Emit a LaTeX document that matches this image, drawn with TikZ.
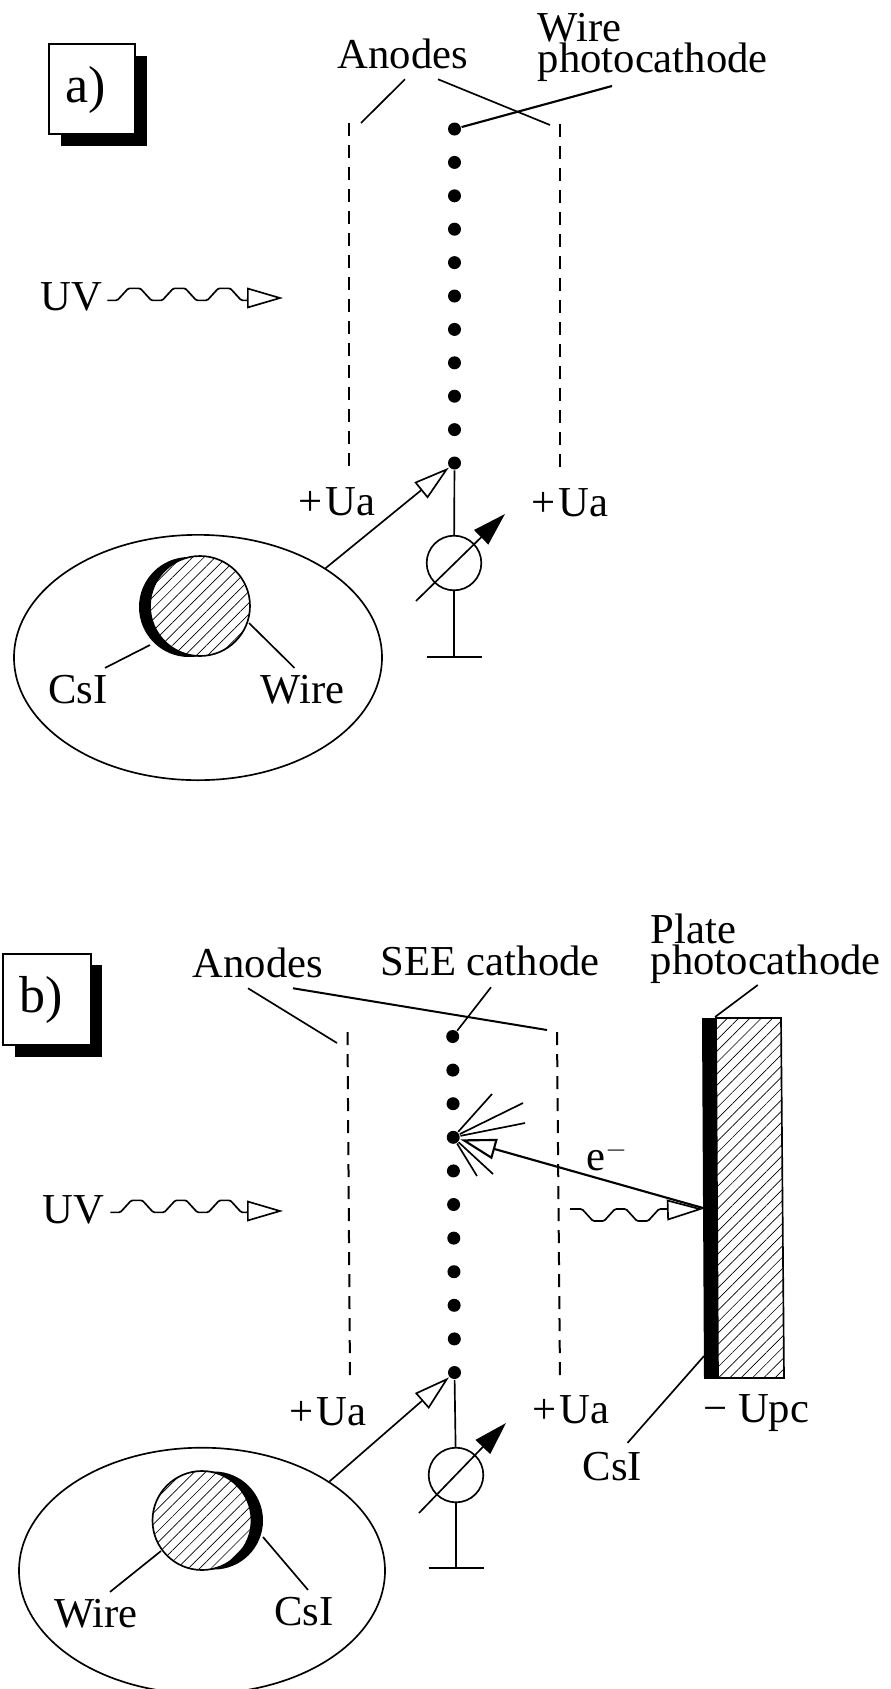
\documentclass[tikz,border=0pt]{standalone}
\usepackage{fontspec}
\setmainfont{Liberation Serif}
\usetikzlibrary{arrows.meta,patterns.meta,shapes.geometric}

\tikzset{
  lbl/.style={inner sep=0pt,anchor=base,font=\fontsize{32}{23.25}\selectfont},
  tagtext/.style={inner sep=0pt,anchor=base west,font=\fontsize{39}{40}\selectfont},
  wdot/.style={circle,fill=black,inner sep=0pt,minimum size=9.75pt},
  dashwall/.style={line width=1.5pt,dash pattern=on 9.75pt off 6.75pt},
  opentip/.style={-{Triangle[fill=white,length=27pt,width=15.5pt]}},
  solidtip/.style={-{Triangle[length=25pt,width=15pt]}},
  wave/.style={rounded corners=1pt},
  meter/.style={circle,draw,inner sep=0pt,minimum size=41pt},
  insetring/.style={ellipse,draw,inner sep=0pt},
  hatch/.style={preaction={fill=white},pattern={Lines[angle=45,distance=6pt,line width=0.5pt]}}
}

\begin{document}
\begin{tikzpicture}[x=0.75pt,y=0.75pt,yscale=-1,xscale=1,line width=1.25pt]
\path[use as bounding box] (0,0) rectangle (891,1689);

%Panel a: tag box
\fill (61,56) rectangle (147,146);
\draw[fill=white] (49,44) rectangle (135,134);
\node[tagtext] (taga) at (65,102) {a)};

%Panel a: labels
\node[lbl] (anodesa) at (403,68) {Anodes};
\node[lbl,anchor=south west,align=left] (wirepca) at (537,82) {Wire\\photocathode};
\node[lbl,anchor=base west] (uva) at (40,310) {UV};
\node[lbl] (uala) at (337,515) {+\kern2pt Ua};
\node[lbl] (uara) at (570,516) {+\kern2pt Ua};

%Panel a: anodes and wire dots
\draw[dashwall] (349,123) -- (349,468);
\draw[dashwall] (560,124) -- (560,470);
\foreach \i in {1,...,11} \node[wdot] (da\i) at (454.5,{129+33.4*(\i-1)}) {};

%Panel a: leaders
\coordinate (lala) at (361,123);
\coordinate (lara) at (550,125);
\draw (anodesa.south) ++(2,10) -- (lala);
\draw (anodesa.south) ++(35,10) -- (lara);
\draw[line width=1.6pt] (da1) -- (612,86);

%Panel a: UV wave
\coordinate (uvba) at (247,298);
\coordinate (uvca) at (283,298);
\draw[wave] (uva.east) ++(4,4) -- ++(10,0) \foreach \k in {1,2,3} { -- ++(11,-12) -- ++(12,0) -- ++(11,12) -- ++(11,0)} -- (uvba);
\draw[opentip] (uvba) -- (uvca);

%Panel a: meter
\node[meter] (metera) at (454,563) {};
\coordinate (gnda) at (454,657);
\draw (da11) -- (metera);
\draw (metera) -- (gnda);
\draw[line width=1.5pt] (gnda) ++(-27.5,0) -- ++(55,0);
\coordinate (mta) at (416,601);
\coordinate (mtb) at (505,514);
\draw[solidtip] (mta) -- (mtb);

%Panel a: inset
\node[insetring,minimum width=276pt,minimum height=184pt] (ella) at (198,657.5) {};
\draw[opentip] (ella.35) -- (da11);
\fill (189,607) circle [radius=50];
\draw[hatch] (200,606) circle [radius=50];
\node[lbl] (csia) at (78,703) {CsI};
\node[lbl] (wireia) at (302.5,703) {Wire};
\coordinate (lca) at (150,645);
\coordinate (lwa) at (249,623);
\draw (csia.north) ++(27,-6) -- (lca);
\draw (wireia.north) ++(-8,-6) -- (lwa);

%Panel b: tag box
\fill (15,965) rectangle (102,1057);
\draw[fill=white] (3,954) rectangle (91,1045);
\node[tagtext] (tagb) at (19,1012) {b)};

%Panel b: labels
\node[lbl] (anodesb) at (258,977) {Anodes};
\node[lbl] (seeb) at (490,975) {SEE cathode};
\node[lbl,anchor=south west,align=left] (platepc) at (650,984) {Plate\\photocathode};
\node[lbl,anchor=base west] (uvb) at (42,1223) {UV};
\node[lbl] (ualb) at (328,1425) {+\kern2pt Ua};
\node[lbl] (uarb) at (571,1423) {+\kern2pt Ua};
\node[lbl,anchor=base east] (upc) at (810,1422) {− Upc};
\node[lbl] (csiplate) at (612.5,1480) {CsI};
\node[lbl] (elec) at (607,1170) {e$^{-}$};

%Panel b: anodes and cathode dots
\draw[dashwall] (347.5,1032) -- (350,1378);
\draw[dashwall] (557,1032) -- (560,1378);
\foreach \i in {1,...,11} \node[wdot] (db\i) at ({452.7+0.18*(\i-1)},{1036.5+33.6*(\i-1)}) {};

%Panel b: leaders
\coordinate (lalb) at (337,1043);
\coordinate (larb) at (547,1030);
\draw (anodesb.south) ++(-10,10) -- (lalb);
\draw[line width=1.5pt] (anodesb.south) ++(35,10) -- (larb);
\draw (seeb.south) ++(1,11) -- (db1);
\draw (platepc.south) ++(-8,1) -- (715,1017);

%Panel b: plate
\fill (702,1018) -- (716,1018) -- (718,1378) -- (704,1378) -- cycle;
\draw[hatch] (716,1018) -- (781,1018) -- (784,1378) -- (718,1378) -- cycle;
\draw (704,1378) -- (718,1378);
\coordinate (lcp) at (704,1356);
\draw (csiplate.north) ++(15,-8) -- (lcp);

%Panel b: UV wave and photon to plate
\coordinate (uvbb) at (247,1211);
\coordinate (uvcb) at (283,1211);
\draw[wave] (uvb.east) ++(5,3) -- ++(10,0) \foreach \k in {1,2,3} { -- ++(11,-12) -- ++(11,0) -- ++(11,12) -- ++(11,0)} -- (uvbb);
\draw[opentip] (uvbb) -- (uvcb);
\coordinate (wpa) at (570,1209);
\coordinate (wpb) at (668,1210);
\coordinate (wpc) at (703,1209);
\draw[wave] (wpa) -- ++(12,0) \foreach \k in {1,2} { -- ++(11,12) -- ++(11,0) -- ++(11,-12) -- ++(11,0)} -- (wpb);
\draw[opentip] (wpb) -- (wpc);

%Panel b: secondary electrons
\coordinate (pla) at (703,1208);
\draw[opentip,line width=1.6pt] (pla) -- (db4);
\foreach \i/\x/\y in {1/492/1094,2/523/1103,3/525/1123,4/477/1176,5/493/1174} {
  \coordinate (ray\i) at (\x,\y);
  \draw (db4) -- (ray\i);
}

%Panel b: meter
\node[meter] (meterb) at (456,1475) {};
\coordinate (gndb) at (456,1568);
\draw (db11) -- (meterb);
\draw (meterb) -- (gndb);
\draw[line width=1.5pt] (gndb) ++(-27.5,0) -- ++(55,0);
\coordinate (mtc) at (419,1513);
\coordinate (mtd) at (506,1423);
\draw[solidtip] (mtc) -- (mtd);

%Panel b: inset
\node[insetring,minimum width=274.5pt,minimum height=184.5pt] (ellb) at (202,1570.7) {};
\draw[opentip] (ellb.35) -- (db11);
\fill (214,1520.5) circle [radius=49];
\draw[hatch] (202,1520.5) circle [radius=49.5];
\node[lbl] (wireib) at (96,1627) {Wire};
\node[lbl] (csib) at (304,1625) {CsI};
\coordinate (lwb) at (161,1551);
\coordinate (lcb) at (263,1537);
\draw (wireib.north) ++(14,-6) -- (lwb);
\draw (csib.north) ++(4,-6) -- (lcb);

\end{tikzpicture}
\end{document}
